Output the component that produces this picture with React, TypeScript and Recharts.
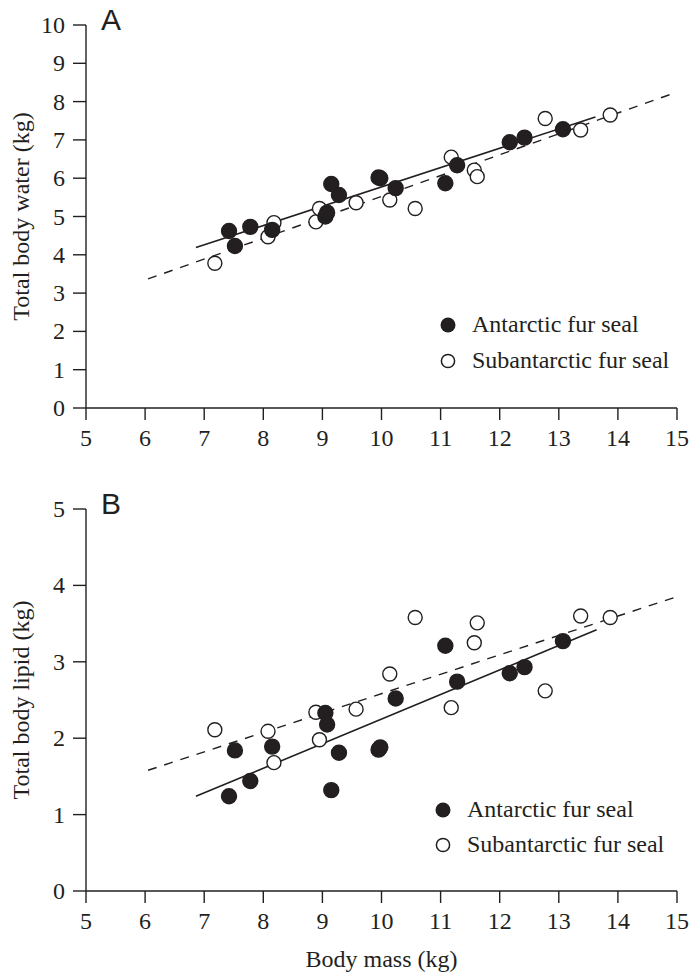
import { ScatterChart, Scatter, XAxis, YAxis, ReferenceLine } from "recharts";

// Body mass (kg) per animal
const antMass = [7.42, 7.52, 7.78, 8.15, 9.05, 9.08, 9.15, 9.28, 9.95, 9.98, 10.24, 11.08, 11.28, 12.17, 12.42, 13.07];
const subMass = [7.18, 8.08, 8.18, 8.89, 8.95, 9.57, 10.14, 10.57, 11.18, 11.57, 11.62, 12.77, 13.37, 13.87];

// Panel A: total body water (kg)
const antWater = [4.62, 4.23, 4.73, 4.65, 5.0, 5.1, 5.85, 5.56, 6.02, 6.0, 5.74, 5.87, 6.34, 6.94, 7.06, 7.28];
const subWater = [3.78, 4.47, 4.84, 4.86, 5.21, 5.36, 5.43, 5.21, 6.55, 6.21, 6.04, 7.56, 7.26, 7.65];

// Panel B: total body lipid (kg)
const antLipid = [1.24, 1.84, 1.44, 1.89, 2.33, 2.18, 1.32, 1.81, 1.85, 1.88, 2.52, 3.21, 2.74, 2.85, 2.93, 3.27];
const subLipid = [2.11, 2.09, 1.68, 2.34, 1.98, 2.38, 2.84, 3.58, 2.4, 3.25, 3.51, 2.62, 3.6, 3.58];

// regression line end points [x0, y0, x1, y1]
const antWaterFit = [6.86, 4.19, 13.62, 7.6];
const subWaterFit = [6.05, 3.37, 14.95, 8.22];
const antLipidFit = [6.86, 1.24, 13.64, 3.42];
const subLipidFit = [6.05, 1.58, 14.95, 3.84];

const xTicks = [5, 6, 7, 8, 9, 10, 11, 12, 13, 14, 15];
const waterTicks = [0, 1, 2, 3, 4, 5, 6, 7, 8, 9, 10];
const lipidTicks = [0, 1, 2, 3, 4, 5];

const legendNames = ["Antarctic fur seal", "Subantarctic fur seal"];

const SERIF = "'Liberation Serif', 'Times New Roman', serif";
const INK = "#231f20";
const FS = 24;

const toPts = (xs: number[], ys: number[]) => xs.map((x, i) => ({ x, y: ys[i] }));
const seg = (f: number[]) => [{ x: f[0], y: f[1] }, { x: f[2], y: f[3] }];

const Dot = (filled: boolean) => (p: any) => (
  <circle cx={p.cx} cy={p.cy} r={filled ? 7.5 : 7} fill={filled ? INK : "#fff"} stroke={INK} strokeWidth={1.4} />
);

const XTick = (p: any) => (
  <text x={p.x} y={p.y + 22} textAnchor="middle" fontFamily={SERIF} fontSize={FS} fill={INK}>{p.payload.value}</text>
);
const YTick = (p: any) => (
  <text x={p.x} y={p.y + 8} textAnchor="end" fontFamily={SERIF} fontSize={FS} fill={INK}>{p.payload.value}</text>
);

function LegendBox({ left, top, gap }: { left: number; top: number; gap: number }) {
  return (
    <svg style={{ position: "absolute", left: left - 10, top: top - 12, overflow: "visible" }} width={236} height={gap + 26}>
      <circle cx={10} cy={12} r={7.5} fill={INK} />
      <text x={34} y={19} fontFamily={SERIF} fontSize={FS} fill={INK}>{legendNames[0]}</text>
      <circle cx={10} cy={12 + gap} r={6.6} fill="#fff" stroke={INK} strokeWidth={1.5} />
      <text x={34} y={19 + gap} fontFamily={SERIF} fontSize={FS} fill={INK}>{legendNames[1]}</text>
    </svg>
  );
}

type PanelProps = {
  letter: string;
  yLabel: string;
  xLabel?: string;
  ant: { x: number; y: number }[];
  sub: { x: number; y: number }[];
  antFit: number[];
  subFit: number[];
  yTicks: number[];
  height: number;
  top: number;
  xAxisH: number;
};

function Panel(p: PanelProps) {
  const yMax = p.yTicks[p.yTicks.length - 1];
  return (
    <ScatterChart width={690} height={p.height} margin={{ top: p.top, right: 13, left: 0, bottom: 0 }}>
      <XAxis
        type="number" dataKey="x" domain={[5, 15]} ticks={xTicks} allowDataOverflow
        tick={<XTick />} tickSize={12} tickMargin={4} height={p.xAxisH}
        stroke={INK} strokeWidth={1.4}
        label={p.xLabel ? {
          content: ({ viewBox }: any) => (
            <text x={viewBox.x + viewBox.width / 2} y={viewBox.y + 76} textAnchor="middle" fontFamily={SERIF} fontSize={FS} fill={INK}>{p.xLabel}</text>
          ),
        } : undefined}
      />
      <YAxis
        type="number" dataKey="y" domain={[0, yMax]} ticks={p.yTicks} allowDataOverflow
        tick={<YTick />} tickSize={13} tickMargin={8} width={86}
        stroke={INK} strokeWidth={1.4}
        label={{
          content: ({ viewBox }: any) => (
            <g>
              <text transform={`translate(${viewBox.x + 29}, ${viewBox.y + viewBox.height / 2}) rotate(-90)`} textAnchor="middle" fontFamily={SERIF} fontSize={FS} fill={INK}>{p.yLabel}</text>
              <text x={viewBox.x + 101} y={viewBox.y + 5} fontFamily="'Liberation Sans', Arial, sans-serif" fontSize={30} fill={INK}>{p.letter}</text>
            </g>
          ),
        }}
      />
      <ReferenceLine segment={seg(p.subFit)} stroke={INK} strokeWidth={1.4} strokeDasharray="9 8" ifOverflow="visible" />
      <ReferenceLine segment={seg(p.antFit)} stroke={INK} strokeWidth={1.6} ifOverflow="visible" />
      <Scatter data={p.sub} shape={Dot(false)} isAnimationActive={false} />
      <Scatter data={p.ant} shape={Dot(true)} isAnimationActive={false} />
    </ScatterChart>
  );
}

export default function App() {
  return (
    <div style={{ position: "absolute", left: 0, top: 0, width: 690, height: 974, background: "#fff", overflow: "hidden" }}>
      <Panel
        letter="A" yLabel="Total body water (kg)"
        ant={toPts(antMass, antWater)} sub={toPts(subMass, subWater)}
        antFit={antWaterFit} subFit={subWaterFit} yTicks={waterTicks}
        height={470} top={25} xAxisH={62}
      />
      <Panel
        letter="B" yLabel="Total body lipid (kg)" xLabel="Body mass (kg)"
        ant={toPts(antMass, antLipid)} sub={toPts(subMass, subLipid)}
        antFit={antLipidFit} subFit={subLipidFit} yTicks={lipidTicks}
        height={504} top={39} xAxisH={83}
      />
      <LegendBox left={448} top={325} gap={36} />
      <LegendBox left={443} top={810} gap={35} />
    </div>
  );
}
